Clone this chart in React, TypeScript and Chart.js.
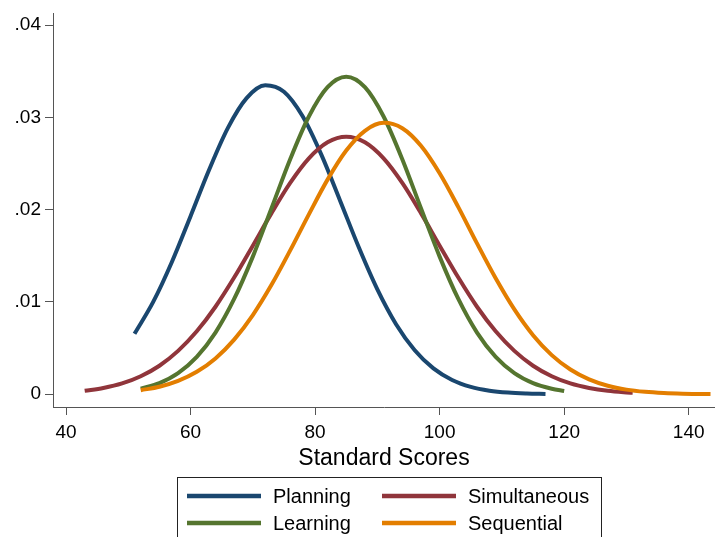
import React, { useEffect, useRef } from "react";
import { Chart, registerables } from "chart.js";

Chart.register(...registerables);

// ---- Data ----
const xTicks = [40, 60, 80, 100, 120, 140];
const yTicks = [0, 0.01, 0.02, 0.03, 0.04];
const xTitle = "Standard Scores";

const seriesNames = ["Planning", "Simultaneous", "Learning", "Sequential"];
const seriesColors = ["#1a476f", "#90353b", "#55752f", "#e37e00"];

const planningX = [51, 54, 57, 60, 63, 66, 69, 72, 75, 78, 81, 84, 87, 90, 93, 96, 99, 102, 105, 108, 111, 114, 117];
const planningY = [0.00655, 0.0100, 0.01433, 0.01929, 0.02435, 0.02886, 0.03208, 0.03347, 0.03277, 0.03011, 0.02596, 0.0210, 0.01595, 0.01136, 0.00759, 0.00477, 0.0028, 0.00155, 0.0008, 0.00039, 0.00018, 0.00008, 0.00003];

const simultaneousX = [43, 46, 49, 52, 55, 58, 61, 64, 67, 70, 73, 76, 79, 82, 85, 88, 91, 94, 97, 100, 103, 106, 109, 112, 115, 118, 121, 124, 127, 130, 131];
const simultaneousY = [0.00037, 0.00068, 0.00117, 0.00195, 0.00309, 0.0047, 0.00682, 0.00948, 0.01264, 0.0161, 0.01962, 0.02289, 0.02555, 0.02729, 0.0279, 0.02729, 0.02555, 0.02289, 0.01962, 0.0161, 0.01264, 0.00948, 0.00682, 0.0047, 0.00309, 0.00195, 0.00117, 0.00068, 0.00037, 0.0002, 0.00016];

const learningX = [52, 55, 58, 61, 64, 67, 70, 73, 76, 79, 82, 85, 88, 91, 94, 97, 100, 103, 106, 109, 112, 115, 118, 120];
const learningY = [0.0006, 0.00121, 0.00229, 0.00405, 0.00668, 0.01032, 0.01491, 0.02015, 0.02546, 0.03009, 0.03327, 0.0344, 0.03327, 0.03009, 0.02546, 0.02015, 0.01491, 0.01032, 0.00668, 0.00405, 0.00229, 0.00121, 0.0006, 0.00036];

const sequentialX = [52, 55, 58, 61, 64, 67, 70, 73, 76, 79, 82, 85, 88, 91, 94, 97, 100, 103, 106, 109, 112, 115, 118, 121, 124, 127, 130, 133, 136, 139, 142, 143.5];
const sequentialY = [0.00044, 0.00082, 0.00145, 0.00243, 0.00388, 0.00592, 0.00858, 0.01185, 0.01558, 0.01949, 0.02325, 0.0264, 0.02854, 0.0294, 0.02882, 0.02692, 0.02394, 0.02027, 0.01634, 0.01256, 0.00919, 0.0064, 0.00424, 0.00268, 0.00161, 0.00092, 0.0005, 0.00026, 0.00013, 0.00006, 0.00003, 0.00002];

const seriesX = [planningX, simultaneousX, learningX, sequentialX];
const seriesY = [planningY, simultaneousY, learningY, sequentialY];
// drawing order: later series on top
const seriesOrder = [4, 3, 2, 1];

const FONT = "'Liberation Sans', Arial, Helvetica, sans-serif";
const AXIS_COLOR = "#555555";

const boxLegend = {
  id: "boxLegend",
  afterDraw(chart: any) {
    const ctx = chart.ctx as CanvasRenderingContext2D;
    ctx.save();
    ctx.strokeStyle = "#222222";
    ctx.lineWidth = 1;
    ctx.strokeRect(177.5, 477.5, 424, 80);
    const lineX = [187, 382];
    const textX = [273, 468];
    const rowY = [496, 523];
    ctx.font = `20px ${FONT}`;
    ctx.textBaseline = "middle";
    ctx.textAlign = "left";
    chart.data.datasets.forEach((ds: any, i: number) => {
      const r = Math.floor(i / 2);
      const c = i % 2;
      ctx.strokeStyle = ds.borderColor;
      ctx.lineWidth = 4.5;
      ctx.lineCap = "butt";
      ctx.beginPath();
      ctx.moveTo(lineX[c], rowY[r]);
      ctx.lineTo(lineX[c] + 74, rowY[r]);
      ctx.stroke();
      ctx.fillStyle = "#000000";
      ctx.fillText(ds.label, textX[c], rowY[r] + 1);
    });
    ctx.restore();
  },
};

export default function App() {
  const canvasRef = useRef<HTMLCanvasElement | null>(null);

  useEffect(() => {
    if (!canvasRef.current) return;
    const datasets = seriesNames.map((name, i) => ({
      label: name,
      data: seriesX[i].map((x, j) => ({ x, y: seriesY[i][j] })),
      borderColor: seriesColors[i],
      backgroundColor: seriesColors[i],
      borderWidth: 4,
      pointRadius: 0,
      pointHoverRadius: 0,
      fill: false,
      cubicInterpolationMode: "monotone" as const,
      order: seriesOrder[i],
    }));

    const chart = new Chart(canvasRef.current, {
      type: "line",
      data: { datasets },
      options: {
        animation: false,
        responsive: false,
        devicePixelRatio: 1,
        layout: { padding: { top: 13, right: 0, bottom: 0, left: 0 } },
        plugins: {
          legend: { display: false },
          tooltip: { enabled: false },
        },
        scales: {
          x: {
            type: "linear",
            min: 37.91,
            max: 144.22,
            afterBuildTicks: (scale: any) => {
              scale.ticks = xTicks.map((v) => ({ value: v }));
            },
            afterFit: (scale: any) => {
              scale.height = 130;
              scale.paddingLeft = 0;
              scale.paddingRight = 0;
            },
            grid: {
              display: true,
              drawOnChartArea: false,
              drawTicks: true,
              tickLength: 8,
              color: AXIS_COLOR,
              lineWidth: 1,
            },
            border: { display: true, color: AXIS_COLOR, width: 1 },
            ticks: {
              color: "#000000",
              padding: 6,
              autoSkip: false,
              maxRotation: 0,
              font: { family: FONT, size: 19 },
              callback: (v: any) => String(v),
            },
            title: {
              display: true,
              text: xTitle,
              color: "#000000",
              font: { family: FONT, size: 23 },
              padding: { top: 0, bottom: 65 },
            },
          },
          y: {
            type: "linear",
            min: -0.00138,
            max: 0.0413,
            afterBuildTicks: (scale: any) => {
              scale.ticks = yTicks.map((v) => ({ value: v }));
            },
            afterFit: (scale: any) => {
              scale.width = 53;
              scale.paddingTop = 0;
              scale.paddingBottom = 0;
            },
            grid: {
              display: true,
              drawOnChartArea: false,
              drawTicks: true,
              tickLength: 8,
              color: AXIS_COLOR,
              lineWidth: 1,
            },
            border: { display: true, color: AXIS_COLOR, width: 1 },
            ticks: {
              color: "#000000",
              padding: 4,
              autoSkip: false,
              font: { family: FONT, size: 19 },
              callback: (v: any) => {
                const n = Number(v);
                if (Math.abs(n) < 1e-9) return "0";
                return n.toFixed(2).replace(/^0/, "");
              },
            },
          },
        },
      },
      plugins: [boxLegend],
    });

    return () => chart.destroy();
  }, []);

  return (
    <div style={{ position: "absolute", left: 0, top: 0, width: 715, height: 537, background: "#ffffff" }}>
      <canvas ref={canvasRef} width={715} height={537} style={{ display: "block" }} />
    </div>
  );
}
